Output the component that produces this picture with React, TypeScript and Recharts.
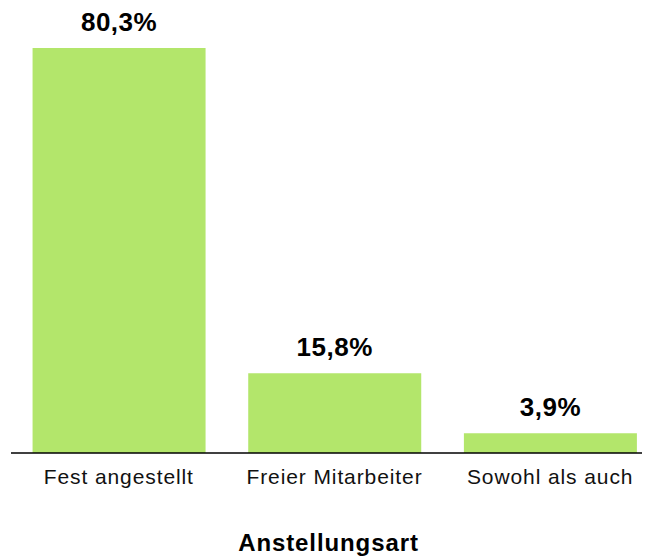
import React from "react";
import { BarChart, Bar, XAxis, YAxis, LabelList, Label } from "recharts";

const categories = ["Fest angestellt", "Freier Mitarbeiter", "Sowohl als auch"];
const values = [80.3, 15.8, 3.9];
const labels = ["80,3%", "15,8%", "3,9%"];

const data = categories.map((c, i) => ({ name: c, value: values[i], label: labels[i] }));

export default function App() {
  return (
    <div style={{ margin: "-8px 0 0 -8px", width: 650, height: 557, fontFamily: "'Liberation Sans', Arial, sans-serif" }}>
      <BarChart
        width={650}
        height={557}
        data={data}
        margin={{ top: 48, right: -8, left: 11, bottom: 0 }}
        barCategoryGap="10%"
      >
        <YAxis hide domain={[0, 80.3]} />
        <XAxis
          dataKey="name"
          axisLine={{ stroke: "#000", strokeWidth: 1.5 }}
          tickLine={false}
          height={104}
          tick={{ fill: "#111", fontSize: 21, letterSpacing: 0.9 }}
          tickMargin={10}
          interval={0}
        >
          <Label
            value="Anstellungsart"
            position="insideBottom"
            offset={6}
            dx={-6}
            style={{ fill: "#000", fontSize: 24, fontWeight: "bold", letterSpacing: 0.9 }}
          />
        </XAxis>
        <Bar dataKey="value" fill="#b3e66b" isAnimationActive={false}>
          <LabelList
            dataKey="label"
            position="top"
            offset={17}
            style={{ fill: "#000", fontSize: 26, fontWeight: "bold", letterSpacing: 0.5 }}
          />
        </Bar>
      </BarChart>
    </div>
  );
}
